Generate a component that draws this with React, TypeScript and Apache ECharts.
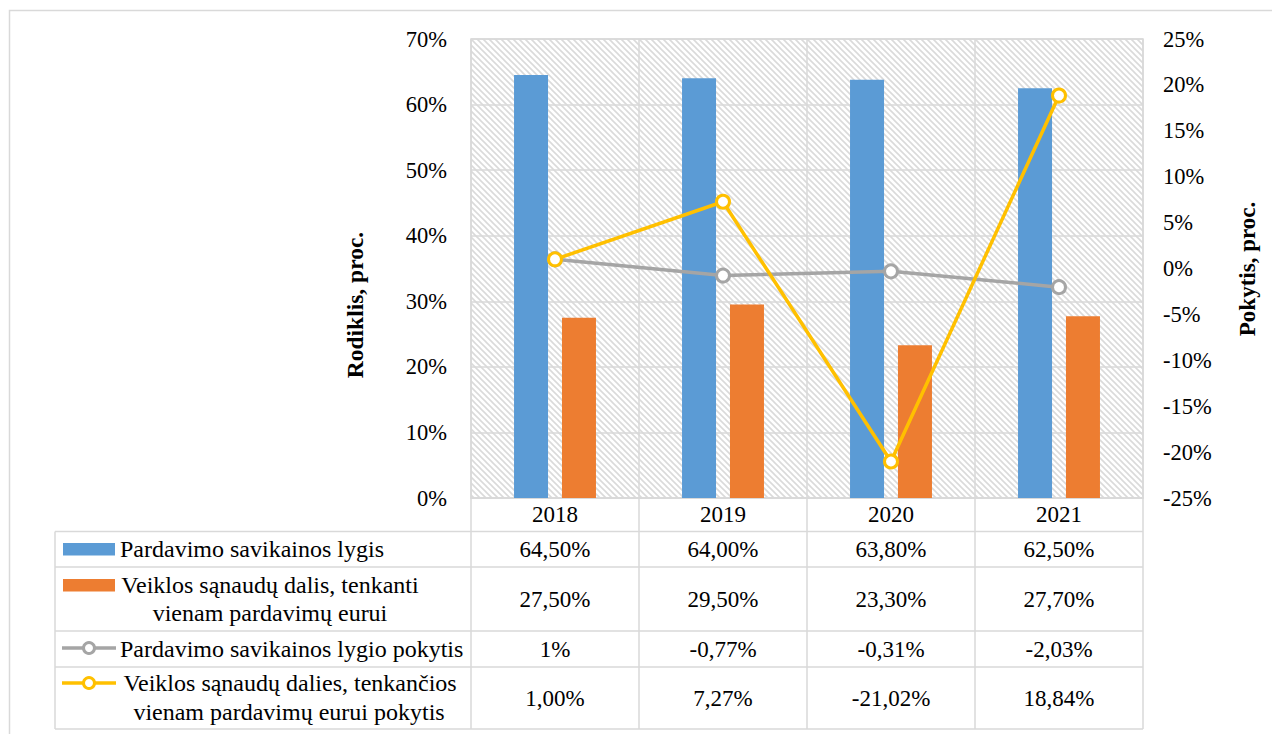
import React, { useEffect, useRef } from "react";
import * as echarts from "echarts";

const years = ["2018", "2019", "2020", "2021"];
const savikainosLygis = [64.5, 64.0, 63.8, 62.5];
const sanauduDalis = [27.5, 29.5, 23.3, 27.7];
const savikainosPokytis = [1, -0.77, -0.31, -2.03];
const sanauduPokytis = [1.0, 7.27, -21.02, 18.84];

const leftTicks = { min: 0, max: 70, interval: 10 };
const rightTicks = { min: -25, max: 25, interval: 5 };

const row1Labels = ["64,50%", "64,00%", "63,80%", "62,50%"];
const row2Labels = ["27,50%", "29,50%", "23,30%", "27,70%"];
const row3Labels = ["1%", "-0,77%", "-0,31%", "-2,03%"];
const row4Labels = ["1,00%", "7,27%", "-21,02%", "18,84%"];

const seriesNames = [
  "Pardavimo savikainos lygis",
  "Veiklos sąnaudų dalis, tenkanti vienam pardavimų eurui",
  "Pardavimo savikainos lygio pokytis",
  "Veiklos sąnaudų dalies, tenkančios vienam pardavimų eurui pokytis",
];

const BLUE = "#5B9BD5";
const ORANGE = "#ED7D31";
const GRAY = "#A5A5A5";
const YELLOW = "#FFC000";
const GRID = "#D9D9D9";
const FONT = "'Liberation Serif', 'Times New Roman', serif";

function makePattern() {
  const s = 6;
  const c = document.createElement("canvas");
  c.width = s;
  c.height = s;
  const ctx = c.getContext("2d")!;
  ctx.fillStyle = "#ffffff";
  ctx.fillRect(0, 0, s, s);
  ctx.strokeStyle = "#DADADA";
  ctx.lineWidth = 1.6;
  ctx.beginPath();
  ctx.moveTo(-2, -2);
  ctx.lineTo(s + 2, s + 2);
  ctx.moveTo(-2, s - 2);
  ctx.lineTo(2, s + 2);
  ctx.moveTo(s - 2, -2);
  ctx.lineTo(s + 2, 2);
  ctx.stroke();
  return c;
}

export default function App() {
  const ref = useRef<HTMLDivElement>(null);

  useEffect(() => {
    if (!ref.current) return;
    const chart = echarts.init(ref.current, undefined, { renderer: "svg" });
    const pattern = makePattern();
    const gridTop = 39;
    const gridBottomY = 498;
    const gridLeft = 471;
    const gridRightX = 1143;

    chart.setOption({
      animation: false,
      backgroundColor: "#ffffff",
      textStyle: { fontFamily: FONT },
      grid: {
        show: true,
        left: gridLeft,
        right: 1272 - gridRightX,
        top: gridTop,
        bottom: 734 - gridBottomY,
        borderColor: GRID,
        borderWidth: 1.5,
        backgroundColor: { image: pattern, repeat: "repeat" },
      },
      xAxis: {
        type: "category",
        data: years,
        axisLine: { show: true, lineStyle: { color: GRID, width: 1.5 } },
        axisTick: { show: false },
        splitLine: { show: true, lineStyle: { color: GRID, width: 1.5 } },
        axisLabel: { fontSize: 23, color: "#000", fontFamily: FONT, margin: 5 },
      },
      yAxis: [
        {
          type: "value",
          ...leftTicks,
          axisLine: { show: false },
          axisTick: { show: false },
          splitLine: { show: true, lineStyle: { color: GRID, width: 1.5 } },
          axisLabel: { formatter: "{value}%", fontSize: 22.5, color: "#000", fontFamily: FONT, margin: 24 },
        },
        {
          type: "value",
          ...rightTicks,
          position: "right",
          axisLine: { show: false },
          axisTick: { show: false },
          splitLine: { show: false },
          axisLabel: { formatter: "{value}%", fontSize: 22.5, color: "#000", fontFamily: FONT, margin: 20 },
        },
      ],
      series: [
        {
          name: seriesNames[0],
          type: "bar",
          data: savikainosLygis,
          barWidth: 34,
          barGap: "41%",
          itemStyle: { color: BLUE },
        },
        {
          name: seriesNames[1],
          type: "bar",
          data: sanauduDalis,
          barWidth: 34,
          itemStyle: { color: ORANGE },
        },
        {
          name: seriesNames[2],
          type: "line",
          yAxisIndex: 1,
          data: savikainosPokytis,
          symbol: "circle",
          symbolSize: 13,
          z: 5,
          lineStyle: { color: GRAY, width: 3.5 },
          itemStyle: { color: "#ffffff", borderColor: GRAY, borderWidth: 3 },
        },
        {
          name: seriesNames[3],
          type: "line",
          yAxisIndex: 1,
          data: sanauduPokytis,
          symbol: "circle",
          symbolSize: 13,
          z: 6,
          lineStyle: { color: YELLOW, width: 3.5 },
          itemStyle: { color: "#ffffff", borderColor: YELLOW, borderWidth: 3 },
        },
      ],
    });

    // Data table below the plot, aligned to the category axis
    const centers = years.map((_, i) => chart.convertToPixel({ xAxisIndex: 0 }, i) as number);
    const half = (centers[1] - centers[0]) / 2;
    const bounds = [centers[0] - half, ...centers.map((c) => c + half)];
    const tableLeft = 55;
    const rowLines = [531.5, 567, 631, 667, 729];
    const rowCenters = [549, 599, 649, 698];
    const lineStyle = { stroke: GRID, lineWidth: 1.5 };
    const g: any[] = [];

    g.push({
      type: "rect",
      shape: { x: 9.5, y: 10.5, width: 1400, height: 900 },
      style: { fill: "none", stroke: GRID, lineWidth: 1.5 },
      silent: true,
    });

    rowLines.forEach((y) => {
      g.push({ type: "line", shape: { x1: tableLeft, y1: y, x2: bounds[bounds.length - 1], y2: y }, style: lineStyle });
    });
    g.push({ type: "line", shape: { x1: tableLeft, y1: rowLines[0], x2: tableLeft, y2: rowLines[rowLines.length - 1] }, style: lineStyle });
    bounds.forEach((x) => {
      g.push({ type: "line", shape: { x1: x, y1: gridBottomY, x2: x, y2: rowLines[rowLines.length - 1] }, style: lineStyle });
    });

    const txt = (x: number, y: number, text: string, align: string = "center", size = 23) => ({
      type: "text",
      x,
      y,
      style: { text, fill: "#000", font: `${size}px ${FONT}`, align, verticalAlign: "middle" },
    });

    [row1Labels, row2Labels, row3Labels, row4Labels].forEach((row, r) => {
      row.forEach((label, i) => g.push(txt(centers[i], rowCenters[r], label)));
    });

    // legend keys
    g.push({ type: "rect", shape: { x: 63, y: 543, width: 52, height: 12.5 }, style: { fill: BLUE } });
    g.push({ type: "rect", shape: { x: 63, y: 579, width: 52, height: 12.5 }, style: { fill: ORANGE } });
    const lineKey = (y: number, color: string) => {
      g.push({ type: "line", shape: { x1: 62, y1: y, x2: 116, y2: y }, style: { stroke: color, lineWidth: 3.5 } });
      g.push({ type: "circle", shape: { cx: 89, cy: y, r: 5.5 }, style: { fill: "#fff", stroke: color, lineWidth: 3 } });
    };
    lineKey(648, GRAY);
    lineKey(683, YELLOW);

    const LS = 24;
    g.push(txt(120, 549, seriesNames[0], "left", LS));
    g.push(txt(270, 585, "Veiklos sąnaudų dalis, tenkanti", "center", LS));
    g.push(txt(270, 613, "vienam pardavimų eurui", "center", LS));
    g.push(txt(120, 649, seriesNames[2], "left", LS));
    g.push(txt(290, 683, "Veiklos sąnaudų dalies, tenkančios", "center", LS));
    g.push(txt(289, 712, "vienam pardavimų eurui pokytis", "center", LS));

    // axis titles
    g.push({
      type: "text",
      x: 355,
      y: 305,
      rotation: Math.PI / 2,
      style: { text: "Rodiklis, proc.", fill: "#000", font: `bold 23.5px ${FONT}`, align: "center", verticalAlign: "middle" },
    });
    g.push({
      type: "text",
      x: 1247,
      y: 269,
      rotation: Math.PI / 2,
      style: { text: "Pokytis, proc.", fill: "#000", font: `bold 23px ${FONT}`, align: "center", verticalAlign: "middle" },
    });

    chart.setOption({ graphic: g });

    return () => chart.dispose();
  }, []);

  return (
    <div
      ref={ref}
      style={{ position: "fixed", left: 0, top: 0, width: 1272, height: 734 }}
    />
  );
}
